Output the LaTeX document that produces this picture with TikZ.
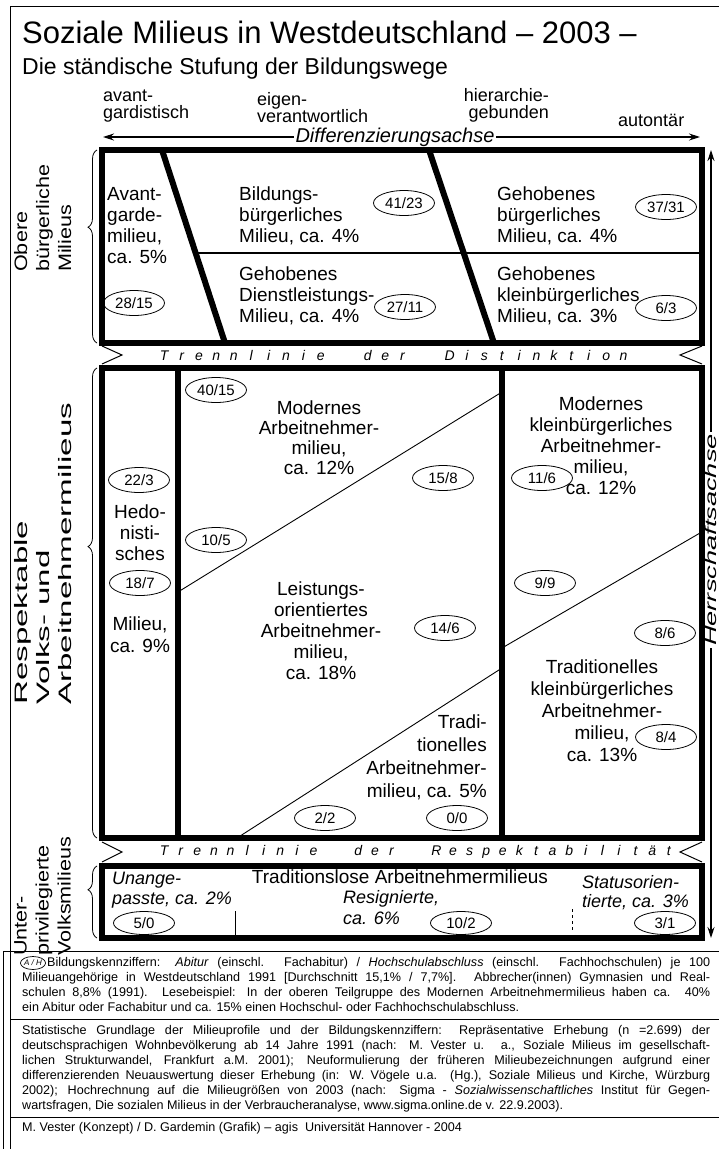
\documentclass[tikz,border=0pt]{standalone}
\usepackage{fontspec}
\setmainfont{Liberation Sans}
\usetikzlibrary{shapes.geometric,decorations.pathreplacing,arrows.meta}
\newlength{\lsp}
\newcommand{\LL}[1]{\makebox[\lsp]{#1}}
\newcommand{\fs}[2]{\fontsize{#1}{#2}\selectfont}
\newcommand{\sx}[2]{\scalebox{#1}[1]{#2}}
\begin{document}
\begin{tikzpicture}[x=1pt,y=-1pt,
  frame/.style={line width=1pt},
  heavy/.style={line width=5.5pt},
  divider/.style={line width=6.5pt},
  slash/.style={line width=6pt},
  fine/.style={line width=0.9pt},
  oval/.style={ellipse, draw, line width=0.8pt, minimum width=61pt, minimum height=25pt, inner sep=0pt, font=\fs{15}{15}},
  txt/.style={inner sep=0pt, font=\fs{19}{21}, align=left, anchor=north west},
  ctxt/.style={inner sep=0pt, font=\fs{19}{21}, align=center, anchor=north},
  itxt/.style={inner sep=0pt, font=\fs{18}{20}\itshape, align=left, anchor=north west},
  hdr/.style={inner sep=0pt, font=\fs{18}{17}},
  side/.style={inner sep=0pt, font=\fs{18}{22}, align=left, rotate=90, anchor=north west},
  notch/.style={line width=1pt},
  curly/.style={decorate, decoration={brace, amplitude=9pt, aspect=#1}, line width=0.8pt},
  axis/.style={{Stealth[length=11pt,width=7pt]}-{Stealth[length=11pt,width=7pt]}, line width=1.2pt},
  tline/.style={inner sep=0pt, font=\fs{14}{14}\itshape, anchor=west},
  foot/.style={inner sep=0pt, font=\fs{12.6}{15}, align=left, anchor=north west}
]
\useasboundingbox (0,0) rectangle (719,1149);
% outer frame
\draw[frame] (10,1149) -- (10,6) -- (719,6);
% titles
\node[anchor=base west, inner sep=0pt, font=\fs{31}{34}] (title) at (22,43) {Soziale Milieus in Westdeutschland – 2003 –};
\node[anchor=base west, inner sep=0pt, font=\fs{23}{26}] (subtitle) at (22,74) {Die ständische Stufung der Bildungswege};
% header labels
\node[hdr, align=left, anchor=north west] (h1) at (103,90) {avant-\\gardistisch};
\node[hdr, align=left, anchor=north west] (h2) at (257,92) {eigen-\\verantwortlich};
\node[hdr, align=right, anchor=north east] (h3) at (549,88) {hierarchie-\\gebunden};
\node[hdr, anchor=north west] (h4) at (618,114) {autontär};
\coordinate (dA) at (103,137);
\coordinate (dB) at (700,137);
\draw[axis] (dA) -- (dB);
\node[fill=white, inner sep=1.5pt, font=\fs{20}{20}\itshape] (dlab) at (395,137) {Differenzierungsachse};
% right axis
\coordinate (hB) at (711,938);
\coordinate (hT) at (711,150);
\draw[axis] (hB) -- (hT);
\node[fill=white, inner sep=2pt, rotate=90, font=\fs{16}{16}\itshape] (hlab) at (711,540) {\sx{1.7}{Herrschaftsachse}};
% ---------- upper box ----------
\draw[heavy] (102,150) rectangle (702,343);
\coordinate (d1t) at (162,150); \coordinate (d1b) at (225,343);
\coordinate (d2t) at (429,150); \coordinate (d2b) at (494,343);
\draw[slash] (d1t) -- (d1b);
\draw[slash] (d2t) -- (d2b);
\coordinate (hl1) at (196,253); \coordinate (hl2) at (702,253);
\draw[line width=1.2pt] (hl1) -- (hl2);
\node[txt] (avant) at (107,187) {Avant-\\garde-\\milieu,\\ca. 5\%};
\node[txt] (bild) at (239,187) {Bildungs-\\bürgerliches\\Milieu, ca. 4\%};
\node[txt] (gehb) at (497,187) {Gehobenes\\bürgerliches\\Milieu, ca. 4\%};
\node[txt] (gehd) at (239,267) {Gehobenes\\Dienstleistungs-\\Milieu, ca. 4\%};
\node[txt] (gehk) at (497,267) {Gehobenes\\kleinbürgerliches\\Milieu, ca. 3\%};
\node[oval] (o1) at (404,203) {41/23};
\node[oval] (o2) at (666,207) {37/31};
\node[oval] (o3) at (134,303) {28/15};
\node[oval] (o4) at (405,307) {27/11};
\node[oval] (o5) at (666,308) {6/3};
% Trennlinie der Distinktion
\draw[notch] (102,346) -- (122,355) -- (102,364);
\draw[notch] (702,346) -- (680,355) -- (702,364);
\node[tline] (tl1) at (155.3,355) {\setlength{\lsp}{17.4pt}\LL{T}\LL{r}\LL{e}\LL{n}\LL{n}\LL{l}\LL{i}\LL{n}\LL{i}\LL{e}\hspace{29.6pt}\LL{d}\LL{e}\LL{r}\hspace{29.6pt}\LL{D}\LL{i}\LL{s}\LL{t}\LL{i}\LL{n}\LL{k}\LL{t}\LL{i}\LL{o}\LL{n}};
% ---------- middle box ----------
\draw[heavy] (102,368) rectangle (702,838);
\coordinate (s1t) at (178,368); \coordinate (s1b) at (178,838);
\coordinate (s2t) at (502,368); \coordinate (s2b) at (502,838);
\draw[divider] (s1t) -- (s1b);
\draw[divider] (s2t) -- (s2b);
\coordinate (m1a) at (178,592); \coordinate (m1b) at (502,392);
\coordinate (m2a) at (502,648); \coordinate (m2b) at (700,533);
\coordinate (m3a) at (502,668); \coordinate (m3b) at (237,838);
\draw[fine] (m1a) -- (m1b);
\draw[fine] (m2a) -- (m2b);
\draw[fine] (m3a) -- (m3b);
\node[oval] (o6) at (216,390) {40/15};
\node[ctxt, font=\fs{19}{20}] (mod) at (319,401) {Modernes\\Arbeitnehmer-\\milieu,\\ca. 12\%};
\node[oval] (o7) at (443,478) {15/8};
\node[oval] (o8) at (139,480) {22/3};
\node[oval] (o9) at (542,478) {11/6};
\node[ctxt] (modk) at (601,397) {Modernes\\kleinbürgerliches\\Arbeitnehmer-\\milieu,\\ca. 12\%};
\node[ctxt] (hedo) at (140,505) {Hedo-\\nisti-\\sches};
\node[oval] (o10) at (216,540) {10/5};
\node[oval] (o11) at (140,583) {18/7};
\node[ctxt, font=\fs{19}{22}] (hedm) at (140,617) {Milieu,\\ca. 9\%};
\node[ctxt] (leis) at (321,582) {Leistungs-\\orientiertes\\Arbeitnehmer-\\milieu,\\ca. 18\%};
\node[oval] (o12) at (445,628) {14/6};
\node[oval] (o13) at (545,583) {9/9};
\node[oval] (o14) at (665,633) {8/6};
\node[ctxt, font=\fs{19}{22}] (tradk) at (602,660) {Traditionelles\\kleinbürgerliches\\Arbeitnehmer-\\milieu,\\ca. 13\%};
\node[oval] (o15) at (666,737) {8/4};
\node[inner sep=0pt, font=\fs{19}{23}, align=right, anchor=north east] (trad) at (487,715) {Tradi-\\tionelles\\Arbeitnehmer-\\milieu, ca. 5\%};
\node[oval] (o16) at (325,818) {2/2};
\node[oval] (o17) at (457,818) {0/0};
% Trennlinie der Respektabilitaet
\draw[notch] (102,842) -- (122,852) -- (102,862);
\draw[notch] (702,842) -- (680,852) -- (702,862);
\node[tline] (tl2) at (155.7,852) {\setlength{\lsp}{16.6pt}\LL{T}\LL{r}\LL{e}\LL{n}\LL{n}\LL{l}\LL{i}\LL{n}\LL{i}\LL{e}\hspace{28.2pt}\LL{d}\LL{e}\LL{r}\hspace{28.2pt}\LL{R}\LL{e}\LL{s}\LL{p}\LL{e}\LL{k}\LL{t}\LL{a}\LL{b}\LL{i}\LL{l}\LL{i}\LL{t}\LL{ä}\LL{t}};
% ---------- bottom box ----------
\draw[heavy] (102,866) rectangle (702,938);
\coordinate (v1a) at (235,911); \coordinate (v1b) at (235,938);
\coordinate (v2a) at (572,909); \coordinate (v2b) at (572,933);
\draw[line width=1pt] (v1a) -- (v1b);
\draw[line width=1pt, dashed] (v2a) -- (v2b);
\node[itxt] (unan) at (112,872) {Unange-\\passte, ca. 2\%};
\node[inner sep=0pt, font=\fs{19}{19}, anchor=north] (trl) at (400,870) {Traditionslose Arbeitnehmermilieus};
\node[itxt, font=\fs{18}{21}\itshape] (resi) at (343,890) {Resignierte,\\ca. 6\%};
\node[itxt, font=\fs{18}{19}\itshape] (stat) at (582,875) {Statusorien-\\tierte, ca. 3\%};
\node[oval, minimum height=23pt] (o18) at (144,923) {5/0};
\node[oval, minimum height=23pt] (o19) at (461,923) {10/2};
\node[oval, minimum height=23pt] (o20) at (665,923) {3/1};
% ---------- left side labels ----------
\draw[curly=0.6] (97,343) -- (97,150);
\draw[curly=0.62] (97,838) -- (97,368);
\draw[curly=0.67] (97,938) -- (97,866);
\node[side] (lab1) at (14,272) {\sx{1.2}{Obere}\\\sx{1.2}{bürgerliche}\\\sx{1.2}{Milieus}};
\node[side] (lab2) at (14,705) {\sx{1.84}{Respektable}\\\sx{1.84}{Volks- und}\\\sx{1.84}{Arbeitnehmermilieus}};
\node[side] (lab3) at (14,956) {\sx{1.2}{Unter-}\\\sx{1.2}{privilegierte}\\\sx{1.2}{Volksmilieus}};
% ---------- footer ----------
\draw[frame] (3,1149) -- (3,951) -- (719,951);
\coordinate (f1a) at (10,1019); \coordinate (f1b) at (719,1019);
\coordinate (f2a) at (10,1117); \coordinate (f2b) at (719,1117);
\draw[frame] (f1a) -- (f1b);
\draw[frame] (f2a) -- (f2b);
\node[ellipse, draw, line width=0.7pt, minimum width=24pt, minimum height=13pt, inner sep=0pt, font=\fs{8}{8}\itshape] (ah) at (33,963) {A / H};
\node[foot] (fn1) at (22,957) {\hspace*{25pt}\makebox[663pt][s]{Bildungskennziffern: \textit{Abitur} (einschl. Fachabitur) / \textit{Hochschulabschluss} (einschl. Fachhochschulen) je 100}\\
\makebox[688pt][s]{Milieuangehörige in Westdeutschland 1991 [Durchschnitt 15,1\% / 7,7\%]. Abbrecher(innen) Gymnasien und Real-}\\
\makebox[688pt][s]{schulen 8,8\% (1991). Lesebeispiel: In der oberen Teilgruppe des Modernen Arbeitnehmermilieus haben ca. 40\%}\\
ein Abitur oder Fachabitur und ca. 15\% einen Hochschul- oder Fachhochschulabschluss.};
\node[foot] (fn2) at (22,1025) {\makebox[688pt][s]{Statistische Grundlage der Milieuprofile und der Bildungskennziffern: Repräsentative Erhebung (n =2.699) der}\\
\makebox[688pt][s]{deutschsprachigen Wohnbevölkerung ab 14 Jahre 1991 (nach: M. Vester u. a., Soziale Milieus im gesellschaft-}\\
\makebox[688pt][s]{lichen Strukturwandel, Frankfurt a.M. 2001); Neuformulierung der früheren Milieubezeichnungen aufgrund einer}\\
\makebox[688pt][s]{differenzierenden Neuauswertung dieser Erhebung (in: W. Vögele u.a. (Hg.), Soziale Milieus und Kirche, Würzburg}\\
\makebox[688pt][s]{2002); Hochrechnung auf die Milieugrößen von 2003 (nach: Sigma - \textit{Sozialwissenschaftliches} Institut für Gegen-}\\
wartsfragen, Die sozialen Milieus in der Verbraucheranalyse, www.sigma.online.de v. 22.9.2003).};
\node[foot] (fn3) at (22,1122) {M. Vester (Konzept) / D. Gardemin (Grafik) – agis \ Universität Hannover - 2004};
\end{tikzpicture}
\end{document}
